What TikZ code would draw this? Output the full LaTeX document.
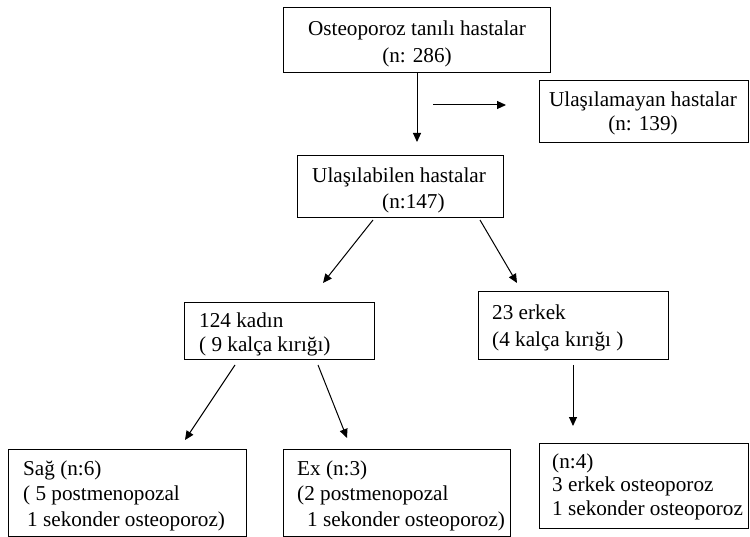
\documentclass[tikz,border=0pt]{standalone}
\usepackage{fontspec}
\setmainfont{Liberation Serif}
\usetikzlibrary{arrows.meta}
\newcommand{\fs}[1]{\fontsize{21.2}{#1}\selectfont}
\begin{document}
\begin{tikzpicture}[x=1pt,y=-1pt,
  box/.style={draw, line width=1pt, inner sep=0pt},
  txt/.style={inner sep=0pt, font=\fs{25.5}},
  arr/.style={line width=1pt, -{Triangle[length=9pt,width=8pt]}}]
\useasboundingbox (0,0) rectangle (750,537);
% boxes
\draw[box] (283,8) rectangle (550,73);   \node (top) at (416.5,40.5) [minimum width=267pt, minimum height=65pt] {};
\draw[box] (539,81) rectangle (748,143); \node (ulm) at (643.5,112) [minimum width=209pt, minimum height=62pt] {};
\draw[box] (297,156) rectangle (503,218);
\node (ul) at (400,187) [minimum width=206pt, minimum height=62pt] {};
\draw[box] (184,303) rectangle (374,360);
\node (kad) at (279,331.5) [minimum width=190pt, minimum height=57pt] {};
\draw[box] (478,292) rectangle (668,360);
\node (erk) at (573,326) [minimum width=190pt, minimum height=68pt] {};
\draw[box] (8,449) rectangle (246,536);
\node (sag) at (127,492.5) [minimum width=238pt, minimum height=87pt] {};
\draw[box] (283,449) rectangle (510,536);
\node (ex) at (396.5,492.5) [minimum width=227pt, minimum height=87pt] {};
\draw[box] (539,443) rectangle (748,528);
\node (n4) at (643.5,485.5) [minimum width=209pt, minimum height=85pt] {};
% texts (anchor = baseline of last line)
\node[txt, font=\fs{27}, anchor=base, align=center] (topt) at (417,63) {Osteoporoz tanılı hastalar\\(n: 286)};
\node[txt, font=\fs{24}, anchor=base, align=center] (ulmt) at (643,131) {Ulaşılamayan hastalar\\(n: 139)};
\node[txt, font=\fs{26}, anchor=base west, align=left] (ult) at (312,209) {Ulaşılabilen hastalar\\\hspace*{70pt}(n:147)};
\node[txt, font=\fs{24}, anchor=base west, align=left] (kadt) at (199,352) {124 kadın\\( 9 kalça kırığı)};
\node[txt, font=\fs{27}, anchor=base west, align=left] (erkt) at (492,347) {23 erkek\\(4 kalça kırığı )};
\node[txt, anchor=base west, align=left] (sagt) at (23,526) {Sağ (n:6)\\( 5 postmenopozal\\\hspace*{4pt}1 sekonder osteoporoz)};
\node[txt, anchor=base west, align=left] (ext) at (297,526) {Ex (n:3)\\(2 postmenopozal\\\hspace*{10pt}1 sekonder osteoporoz)};
\node[txt, font=\fs{23.5}, anchor=base west, align=left] (n4t) at (552,515) {(n:4)\\3 erkek osteoporoz\\1 sekonder osteoporoz};
% arrows
\coordinate (a0) at (417,73);   \coordinate (a1) at (417,142);
\coordinate (h0) at (433,105);  \coordinate (h1) at (506,105);
\coordinate (b0) at (373,220);  \coordinate (b1) at (323,283);
\coordinate (c0) at (480,220);  \coordinate (c1) at (517,283);
\coordinate (d0) at (235,365);  \coordinate (d1) at (185,440);
\coordinate (e0) at (318,365);  \coordinate (e1) at (347,438);
\coordinate (f0) at (573,365);  \coordinate (f1) at (573,426);
\draw[arr] (a0) -- (a1);
\draw[arr] (h0) -- (h1);
\draw[arr] (b0) -- (b1);
\draw[arr] (c0) -- (c1);
\draw[arr] (d0) -- (d1);
\draw[arr] (e0) -- (e1);
\draw[arr] (f0) -- (f1);
\end{tikzpicture}
\end{document}
